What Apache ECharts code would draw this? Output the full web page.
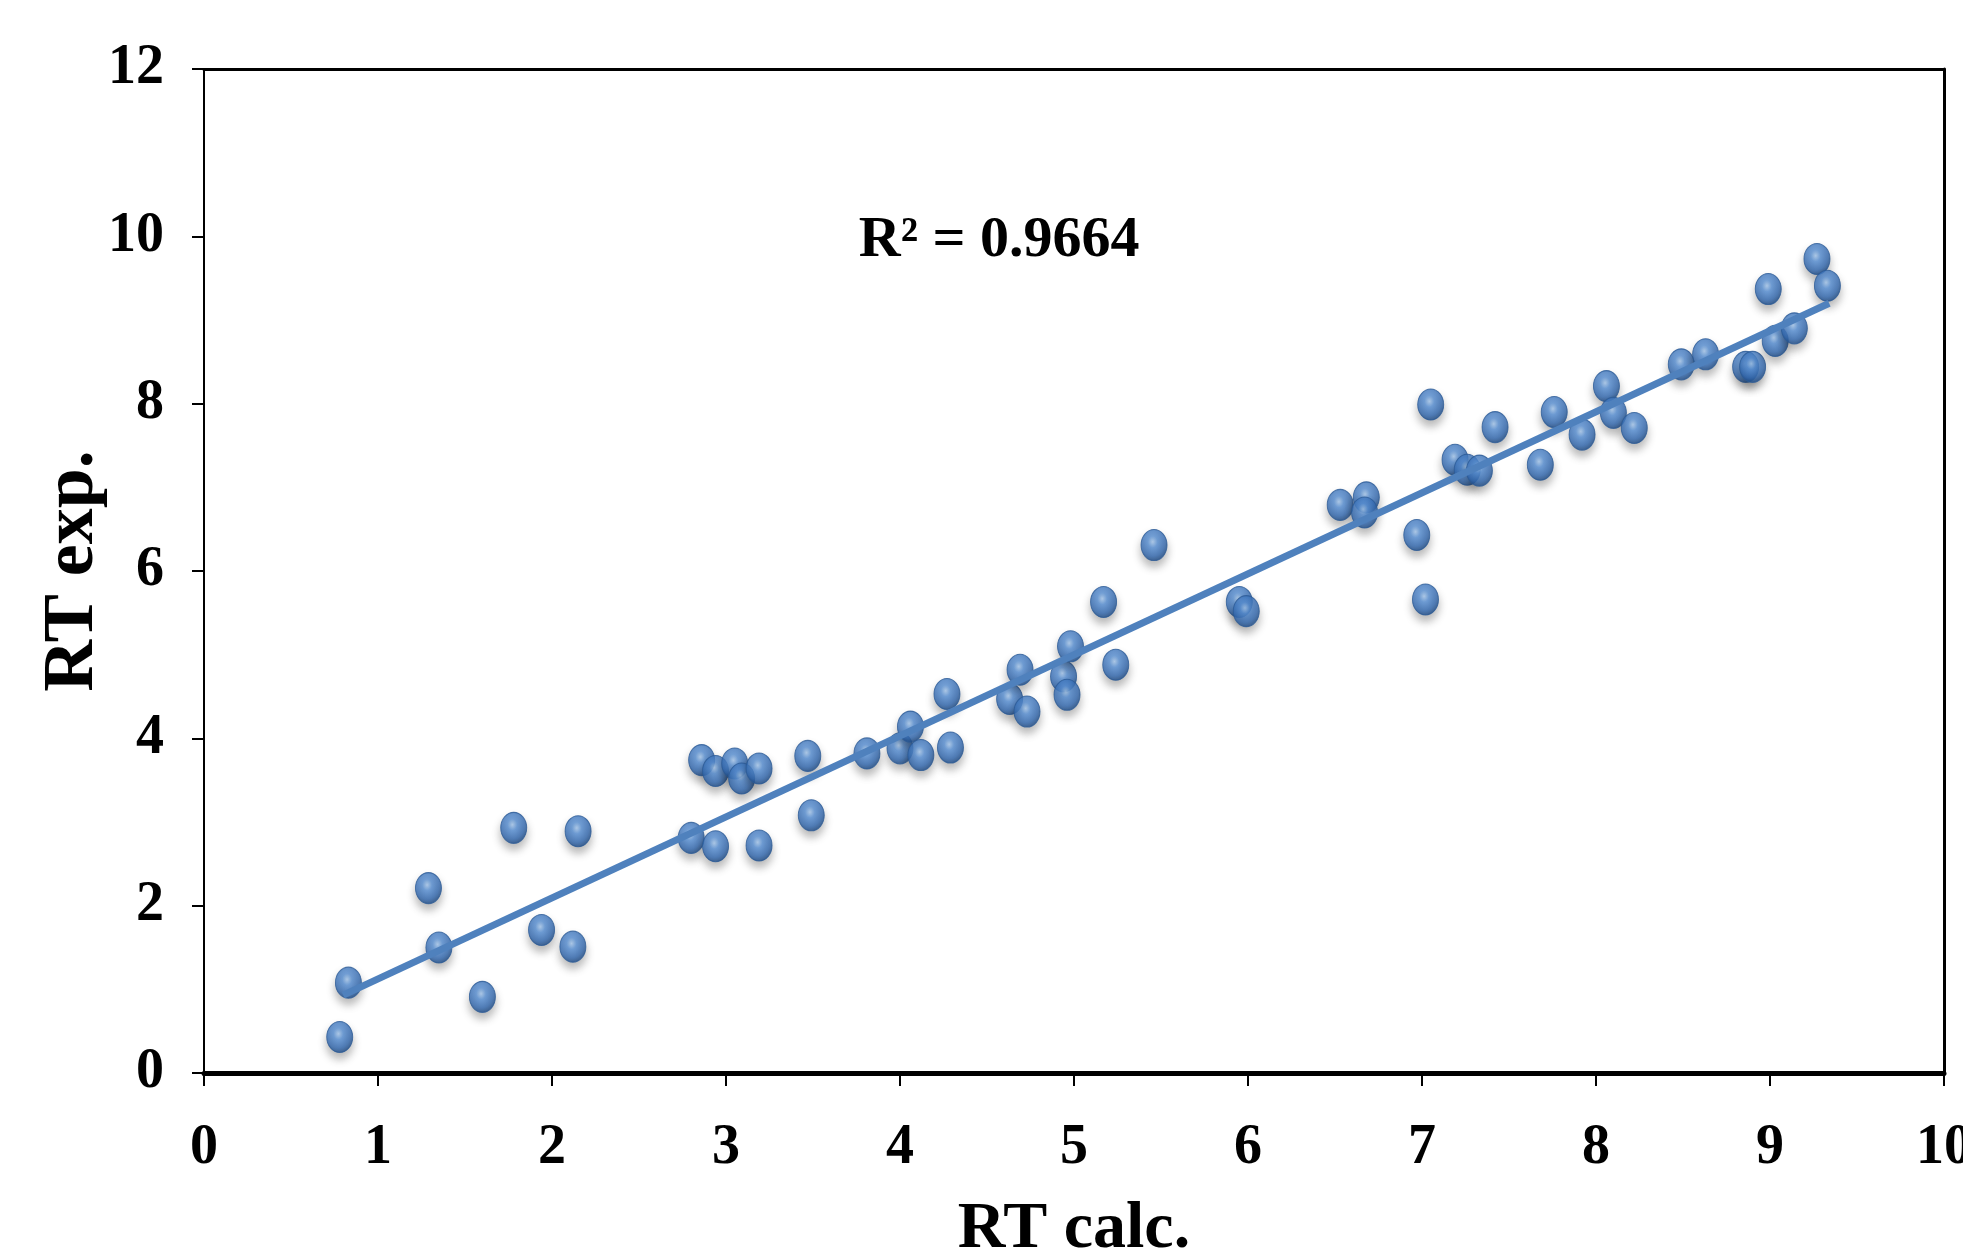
<!DOCTYPE html>
<html>
<head>
<meta charset="utf-8">
<script src="https://cdn.jsdelivr.net/npm/echarts@6/dist/echarts.min.js"></script>
<style>html,body{margin:0;padding:0;background:#fff;overflow:hidden}#c{width:1963px;height:1258px}</style>
</head>
<body>
<div id="c"></div>
<script>
// RT calc. (x) values
var rtCalc = [0.78,0.83,1.29,1.35,1.60,1.78,1.94,2.12,2.15,2.80,2.86,2.94,2.94,3.05,3.09,3.19,3.19,3.47,3.49,3.81,4.00,4.06,4.12,4.27,4.29,4.63,4.69,4.73,4.94,4.96,4.98,5.17,5.24,5.46,5.95,5.99,6.53,6.68,6.67,6.97,7.02,7.05,7.19,7.26,7.33,7.42,7.68,7.76,7.92,8.06,8.10,8.22,8.49,8.63,8.86,8.90,8.99,9.03,9.14,9.27,9.33];
// RT exp. (y) values
var rtExp = [0.43,1.08,2.21,1.50,0.91,2.93,1.71,1.51,2.89,2.81,3.74,3.61,2.71,3.70,3.52,2.72,3.64,3.79,3.08,3.82,3.88,4.14,3.80,4.53,3.89,4.47,4.82,4.32,4.74,4.52,5.10,5.63,4.88,6.31,5.63,5.52,6.79,6.88,6.70,6.43,5.66,7.99,7.33,7.21,7.20,7.72,7.27,7.90,7.63,8.21,7.89,7.71,8.47,8.59,8.44,8.44,9.37,8.75,8.90,9.73,9.41];
// trend line end points
var trendX = [0.80, 9.34];
var trendY = [0.93, 9.20];
var r2Text = 'R² = 0.9664';
var r2Pos = [4.57, 9.95];
var xTicks = {min: 0, max: 10, interval: 1};
var yTicks = {min: 0, max: 12, interval: 2};

var pts = rtCalc.map(function (x, i) { return [x, rtExp[i]]; });
var trend = trendX.map(function (x, i) { return [x, trendY[i]]; });

var font = "'Liberation Serif','Times New Roman',serif";
var chart = echarts.init(document.getElementById('c'), null, {renderer: 'canvas'});
chart.setOption({
  backgroundColor: '#fff',
  animation: false,
  grid: {left: 204, top: 69, right: 19, bottom: 185, containLabel: false, outerBoundsMode: 'none'},
  xAxis: [{
    type: 'value', min: xTicks.min, max: xTicks.max, interval: xTicks.interval,
    name: 'RT calc.', nameLocation: 'middle', nameGap: 124, nameMoveOverlap: false,
    nameTextStyle: {fontFamily: font, fontWeight: 'bold', fontSize: 66, color: '#000'},
    axisLine: {show: true, onZero: false, lineStyle: {color: '#000', width: 5}},
    axisTick: {show: true, length: 13, lineStyle: {color: '#000', width: 2}},
    axisLabel: {fontFamily: font, fontWeight: 'bold', fontSize: 56, color: '#000', margin: 48},
    splitLine: {show: false}
  }, {
    type: 'value', position: 'top', min: xTicks.min, max: xTicks.max,
    axisLine: {show: true, onZero: false, lineStyle: {color: '#000', width: 3}},
    axisTick: {show: false}, axisLabel: {show: false}, splitLine: {show: false}
  }],
  yAxis: [{
    type: 'value', min: yTicks.min, max: yTicks.max, interval: yTicks.interval,
    name: 'RT exp.', nameLocation: 'middle', nameGap: 95, nameMoveOverlap: false,
    nameTextStyle: {fontFamily: font, fontWeight: 'bold', fontSize: 72, color: '#000'},
    axisLine: {show: true, onZero: false, lineStyle: {color: '#000', width: 2}},
    axisTick: {show: true, length: 12, lineStyle: {color: '#000', width: 2}},
    axisLabel: {fontFamily: font, fontWeight: 'bold', fontSize: 56, color: '#000', margin: 40},
    splitLine: {show: false}
  }, {
    type: 'value', position: 'right', min: yTicks.min, max: yTicks.max,
    axisLine: {show: true, onZero: false, lineStyle: {color: '#000', width: 3}},
    axisTick: {show: false}, axisLabel: {show: false}, splitLine: {show: false}
  }],
  series: [{
    type: 'scatter',
    data: pts,
    symbol: 'circle',
    symbolSize: [26, 31],
    z: 2,
    itemStyle: {
      color: {
        type: 'radial', x: 0.45, y: 0.4, r: 0.6,
        colorStops: [
          {offset: 0, color: '#a9ccf2'},
          {offset: 0.3, color: '#5a93d9'},
          {offset: 0.75, color: '#346bb3'},
          {offset: 1, color: '#1d4a84'}
        ]
      },
      borderColor: '#2a5a96',
      borderWidth: 1,
      shadowColor: 'rgba(0,0,0,0.35)',
      shadowBlur: 8,
      shadowOffsetY: 6
    }
  }, {
    type: 'line',
    data: trend,
    z: 3,
    symbol: 'none',
    lineStyle: {color: '#4f81bd', width: 7},
    markPoint: {
      symbol: 'circle', symbolSize: 0,
      data: [{coord: r2Pos}],
      label: {show: true, position: 'inside', formatter: r2Text,
        fontFamily: font, fontWeight: 'bold', fontSize: 58, color: '#000'}
    }
  }]
});
</script>
</body>
</html>
